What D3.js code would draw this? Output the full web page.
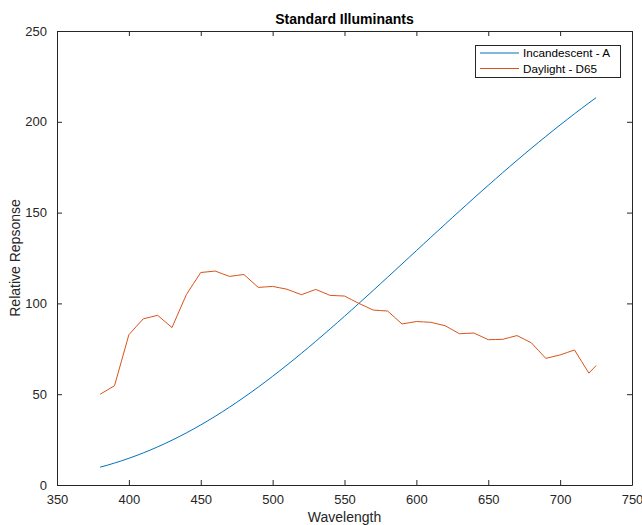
<!DOCTYPE html>
<html>
<head>
<meta charset="utf-8">
<script src="https://cdn.jsdelivr.net/npm/d3@7"></script>
<style>
  body { margin: 0; background: #fff; }
  svg { display: block; font-family: "Liberation Sans", Arial, sans-serif; }
</style>
</head>
<body>
<svg id="chart"></svg>
<script>
// Wavelength samples (nm)
const wavelengths = [380,385,390,395,400,405,410,415,420,425,430,435,440,445,450,455,460,465,470,475,
  480,485,490,495,500,505,510,515,520,525,530,535,540,545,550,555,560,565,570,575,
  580,585,590,595,600,605,610,615,620,625,630,635,640,645,650,655,660,665,670,675,
  680,685,690,695,700,705,710,715,720,725];

// Incandescent - A
const illumA = [9.80,10.90,12.09,13.35,14.71,16.15,17.68,19.29,21.00,22.79,24.67,26.64,28.70,30.85,33.09,35.41,37.81,40.30,42.87,45.52,
  48.24,51.04,53.91,56.85,59.86,62.93,66.06,69.25,72.50,75.79,79.13,82.52,85.95,89.41,92.91,96.44,100.00,103.58,107.18,110.80,
  114.44,118.08,121.73,125.39,129.04,132.70,136.35,139.99,143.62,147.24,150.84,154.42,157.98,161.52,165.03,168.51,171.96,175.38,178.77,182.12,
  185.43,188.70,191.93,195.12,198.26,201.36,204.41,207.41,210.37,213.27];

// Daylight - D65
const illumD65 = [49.98,52.31,54.65,68.70,82.75,87.12,91.49,92.46,93.43,90.06,86.68,95.77,104.87,110.94,117.01,117.41,117.81,116.34,114.86,115.39,
  115.92,112.37,108.81,109.08,109.35,108.58,107.80,106.30,104.79,106.24,107.69,106.05,104.41,104.23,104.05,102.02,100.00,98.17,96.33,96.06,
  95.79,92.24,88.69,89.35,90.01,89.80,89.60,88.65,87.70,85.49,83.29,83.49,83.70,81.86,80.03,80.12,80.21,81.25,82.28,80.28,
  78.28,74.00,69.72,70.67,71.61,72.98,74.35,67.98,61.60,65.74];

const seriesNames = ["Incandescent - A", "Daylight - D65"];
const seriesColors = ["#0072BD", "#D95319"];
const xTicks = [350,400,450,500,550,600,650,700,750];
const yTicks = [0,50,100,150,200,250];

const width = 642, height = 525;
const margin = { top: 31, right: 10, bottom: 40, left: 57 };
const plotRight = 632, plotBottom = 485;
const axisColor = "#262626";

const svg = d3.select("#chart")
  .attr("width", width)
  .attr("height", height);

const x = d3.scaleLinear().domain([350, 750]).range([margin.left, plotRight]);
const y = d3.scaleLinear().domain([0, 250]).range([plotBottom, margin.top]);

// Axes (MATLAB style: ticks inside, box on)
function styleAxis(g) {
  g.select(".domain").attr("stroke", axisColor).attr("stroke-width", 1);
  g.selectAll(".tick line").attr("stroke", axisColor).attr("stroke-width", 1);
  g.selectAll(".tick text").attr("fill", axisColor).style("font-size", "13px");
}

svg.append("g")
  .attr("transform", `translate(0,${plotBottom})`)
  .call(d3.axisBottom(x).tickValues(xTicks).tickSizeInner(-5).tickSizeOuter(0).tickPadding(10))
  .call(styleAxis);

svg.append("g")
  .attr("transform", `translate(0,${margin.top})`)
  .call(d3.axisTop(x).tickValues(xTicks).tickSizeInner(-5).tickSizeOuter(0).tickFormat(""))
  .call(styleAxis);

svg.append("g")
  .attr("transform", `translate(${margin.left},0)`)
  .call(d3.axisLeft(y).tickValues(yTicks).tickSizeInner(-5).tickSizeOuter(0).tickPadding(10))
  .call(styleAxis);

svg.append("g")
  .attr("transform", `translate(${plotRight},0)`)
  .call(d3.axisRight(y).tickValues(yTicks).tickSizeInner(-5).tickSizeOuter(0).tickFormat(""))
  .call(styleAxis);

// Lines
const series = [illumA, illumD65];
const line = d3.line()
  .x((d, i) => x(wavelengths[i]))
  .y(d => y(d));

series.forEach((vals, k) => {
  svg.append("path")
    .datum(vals)
    .attr("fill", "none")
    .attr("stroke", seriesColors[k])
    .attr("stroke-width", 1)
    .attr("d", line);
});

// Title and axis labels
svg.append("text")
  .attr("x", (margin.left + plotRight) / 2)
  .attr("y", 24)
  .attr("text-anchor", "middle")
  .style("font-size", "14px")
  .style("font-weight", "bold")
  .attr("fill", "#000")
  .text("Standard Illuminants");

svg.append("text")
  .attr("x", (margin.left + plotRight) / 2)
  .attr("y", 522)
  .attr("text-anchor", "middle")
  .style("font-size", "14px")
  .attr("fill", axisColor)
  .text("Wavelength");

svg.append("text")
  .attr("transform", `translate(20,${(margin.top + plotBottom) / 2}) rotate(-90)`)
  .attr("text-anchor", "middle")
  .style("font-size", "14px")
  .attr("fill", axisColor)
  .text("Relative Repsonse");

// Legend
const legend = svg.append("g");
legend.append("rect")
  .attr("x", 475.5)
  .attr("y", 45.5)
  .attr("width", 145)
  .attr("height", 32)
  .attr("fill", "#fff")
  .attr("stroke", axisColor)
  .attr("stroke-width", 1);

seriesNames.forEach((name, k) => {
  const ly = 53 + k * 15.5;
  legend.append("line")
    .attr("x1", 480).attr("x2", 519)
    .attr("y1", ly).attr("y2", ly)
    .attr("stroke", seriesColors[k])
    .attr("stroke-width", 1);
  legend.append("text")
    .attr("x", 523)
    .attr("y", ly + 4)
    .style("font-size", "11.7px")
    .attr("fill", "#000")
    .text(name);
});
</script>
</body>
</html>
